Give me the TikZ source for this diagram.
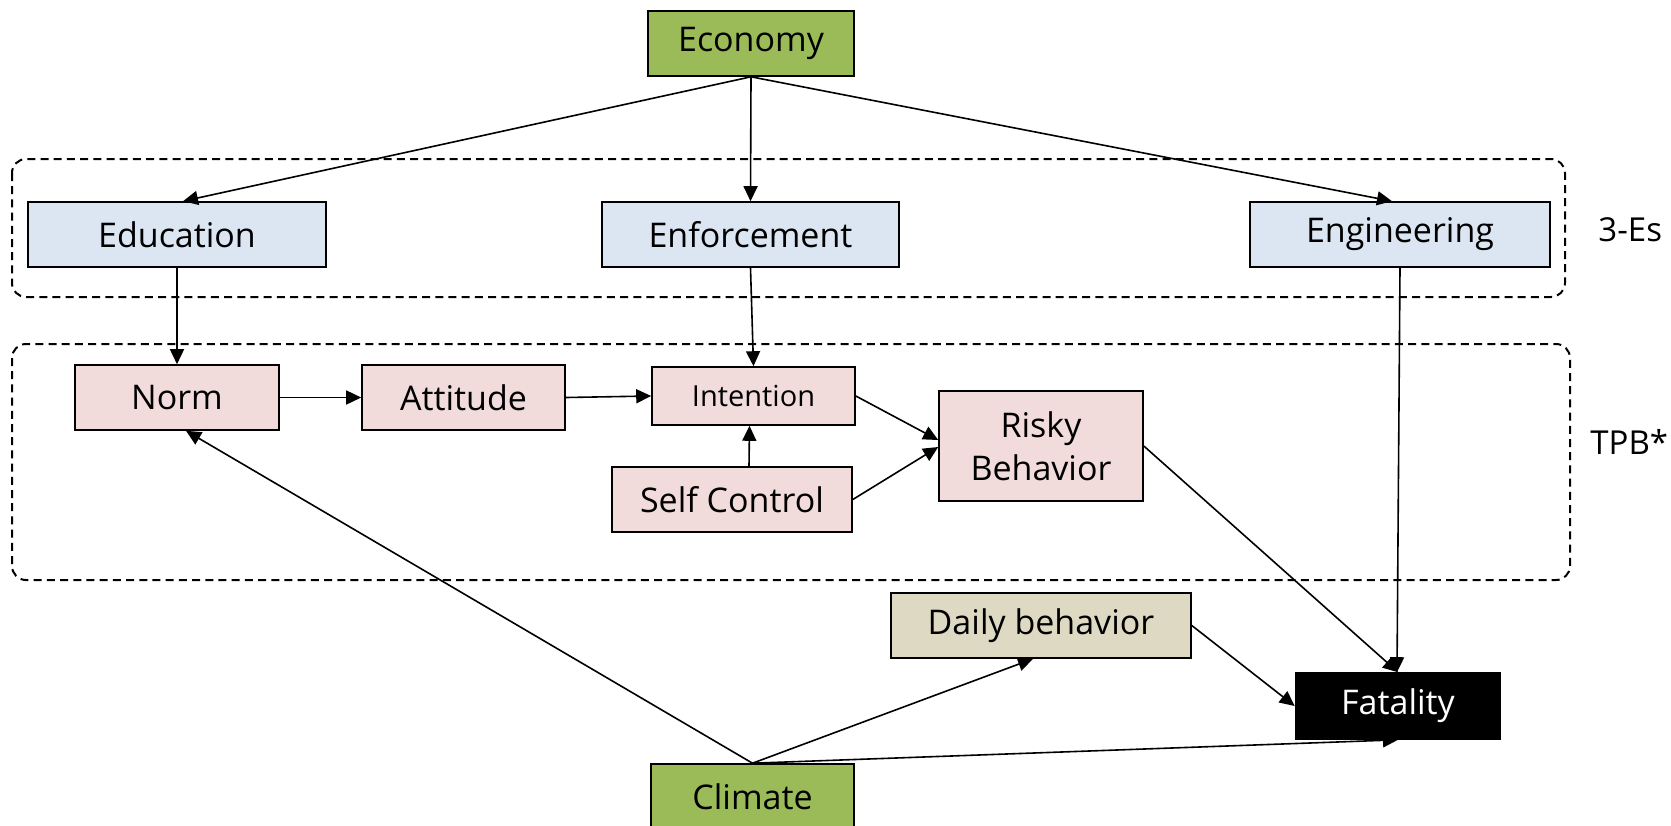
\documentclass[tikz,border=0pt]{standalone}
\usepackage{fontspec}
\setmainfont{Open Sans}
\usetikzlibrary{arrows.meta}
\definecolor{egreen}{HTML}{9BBB59}
\definecolor{eblue}{HTML}{DCE6F2}
\definecolor{epink}{HTML}{F2DCDB}
\definecolor{etan}{HTML}{DDD9C3}
\begin{document}
\begin{tikzpicture}[x=0.5pt,y=-0.5pt,
  box/.style={draw=black,line width=0.8pt,minimum height=32.5pt,inner sep=0pt,
    font=\fontsize{17}{21.5}\selectfont,align=center},
  greenbox/.style={box,fill=egreen},
  bluebox/.style={box,fill=eblue},
  pinkbox/.style={box,fill=epink},
  tanbox/.style={box,fill=etan},
  blackbox/.style={box,fill=black,text=white},
  conn/.style={line width=0.8pt,-{Triangle[length=7.5pt,width=7pt]}},
  group/.style={dashed,line width=1pt,dash pattern=on 4pt off 2.6pt,rounded corners=7pt},
  lbl/.style={anchor=west,inner sep=0pt,font=\fontsize{16.5}{20}\selectfont}]
\useasboundingbox (0,0) rectangle (1671,825);
\draw[group] (12,159) rectangle (1565,297);
\draw[group] (12,344) rectangle (1570,580);
\node[lbl] (es) at (1598,230) {3-Es};
\node[lbl] (tpb) at (1590,442) {TPB*};
\node[greenbox,minimum width=103pt] (economy) at (751,43.5) {Economy};
\node[bluebox,minimum width=149pt] (education) at (177,234.5) {Education};
\node[bluebox,minimum width=148.5pt] (enforcement) at (750.5,234.5) {Enforcement};
\node[bluebox,minimum width=150pt] (engineering) at (1400,234.5) {Engineering};
\node[pinkbox,minimum width=102pt] (norm) at (177,397.5) {Norm};
\node[pinkbox,minimum width=101.5pt] (attitude) at (463.5,397.5) {Attitude};
\node[pinkbox,minimum width=101.5pt,minimum height=29pt,font=\fontsize{14.5}{17}\selectfont] (intention) at (753.5,396) {Intention};
\node[pinkbox,minimum width=120pt] (selfcontrol) at (732,499.5) {Self Control};
\node[pinkbox,minimum width=102pt,minimum height=55pt] (risky) at (1041,446) {Risky\\Behavior};
\node[tanbox,minimum width=150pt] (daily) at (1041,625.5) {Daily behavior};
\node[blackbox,minimum width=102.5pt,minimum height=33pt] (fatality) at (1398,706) {Fatality};
\node[greenbox,minimum width=101.5pt] (climate) at (752.5,796.5) {Climate};
\draw[conn] (economy.south) -- ([xshift=3pt]education.north);
\draw[conn] (economy.south) -- (enforcement.north);
\draw[conn] (economy.south) -- ([xshift=-4pt]engineering.north);
\draw[conn] (education.south) -- (norm.north);
\draw[conn] (enforcement.south) -- (intention.north);
\draw[conn] (engineering.south) -- ([xshift=-0.5pt]fatality.north);
\draw[conn] (norm.east) -- (attitude.west);
\draw[conn] (attitude.east) -- (intention.west);
\draw[conn] ([xshift=8.5pt]selfcontrol.north) -- ([xshift=-2pt]intention.south);
\draw[conn] (intention.east) -- ([yshift=3pt]risky.west);
\draw[conn] (selfcontrol.east) -- ([yshift=-0.5pt]risky.west);
\draw[conn] (risky.east) -- (fatality.north);
\draw[conn] (daily.east) -- (fatality.west);
\draw[conn] (climate.north) -- ([xshift=4.5pt]norm.south);
\draw[conn] (climate.north) -- ([xshift=-4pt]daily.south);
\draw[conn] (climate.north) -- (fatality.south);
\end{tikzpicture}
\end{document}
